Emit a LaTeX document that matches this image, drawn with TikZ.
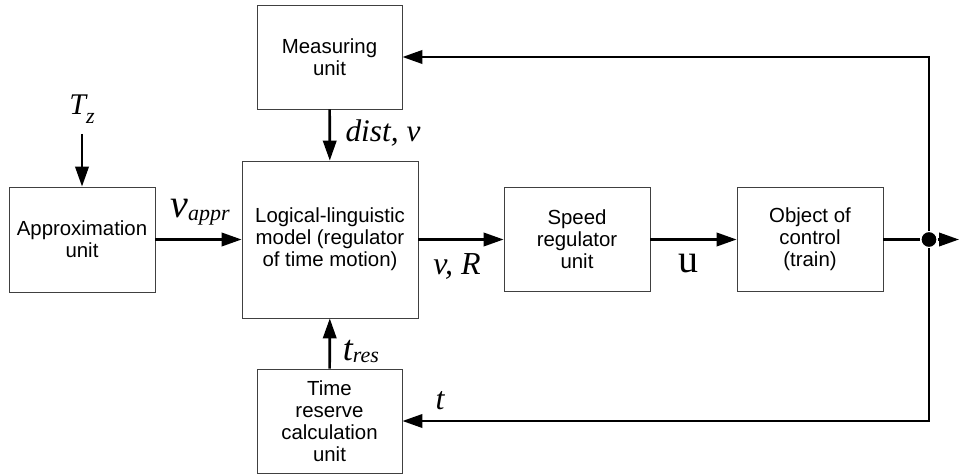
\documentclass[tikz,border=0pt]{standalone}
\usepackage{fontspec}
\setmainfont{Liberation Sans}
\newfontfamily\tms{Liberation Serif}
\usetikzlibrary{arrows.meta}

% italic symbol with a subscript: {main}{sub}{size}{subsize}{drop}
\newcommand{\sym}[5]{{\tms\itshape\fontsize{#3}{#3}\selectfont #1\raisebox{-#5}{\fontsize{#4}{#4}\selectfont #2}}}

\begin{document}
\begin{tikzpicture}[x=0.75pt, y=-0.75pt, line width=2pt,
    >={Triangle[length=15pt,width=10pt]},
    block/.style={shape=rectangle, draw=black!75, line width=0.6pt, align=center,
        inner sep=0pt, font=\fontsize{15.3}{16.4}\selectfont},
    sig/.style={anchor=base, inner sep=0pt}]
    \useasboundingbox (0,0) rectangle (959,474);

    \node[block, minimum width=109.5pt, minimum height=78.75pt] (A) at (82,239.5) {Approximation\\unit};
    \node[block, minimum width=132pt, minimum height=117.75pt] (L) at (330,239.5) {Logical-linguistic\\model (regulator\\of time motion)};
    \node[block, minimum width=108.75pt, minimum height=78pt] (M) at (329.5,57) {Measuring\\unit};
    \node[block, minimum width=108.75pt, minimum height=78pt] (R) at (329.5,421) {Time\\reserve\\calculation\\unit};
    \node[block, minimum width=109.5pt, minimum height=78pt] (S) at (577,239.5) {Speed\\regulator\\unit};
    \node[block, minimum width=109.5pt, minimum height=78pt] (O) at (810,239.5) {Object of\\control\\(train)};
    \node[shape=circle, fill=black, inner sep=0pt, minimum size=11pt] (J) at (929,239.5) {};

    \coordinate (tz) at (82,134);
    \coordinate (out) at (959,239.5);

    % signal labels
    \node[sig] (Tz) at (82,115) {\sym{T}{z}{22.5pt}{16.5pt}{6pt}};
    \node[sig] (vappr) at (200,217) {\sym{v}{appr}{30pt}{16.5pt}{2.5pt}};
    \node[sig] (dv) at (383,142) {\tms\itshape\fontsize{23.5}{23.5}\selectfont dist, v};
    \node[sig] (vR) at (457,274) {\tms\itshape\fontsize{24}{24}\selectfont v, R};
    \node[sig] (u) at (688,272) {\tms\fontsize{30}{30}\selectfont u};
    \node[sig] (tres) at (361,360) {\sym{t}{res}{27pt}{16.5pt}{1.5pt}};
    \node[sig] (t) at (440,409) {\tms\itshape\fontsize{24}{24}\selectfont t};

    % forward path
    \path [->] (tz) edge (A);
    \path [->] (A) edge (L);
    \path [->] (M) edge (L);
    \path [->] (R) edge (L);
    \path [->] (L) edge (S);
    \path [->] (S) edge (O);
    \path [-] (O) edge (J);
    \path [->] (J) edge (out);

    % feedback
    \draw [->] (J) |- (M);
    \draw [->] (J) |- (R);
\end{tikzpicture}
\end{document}
